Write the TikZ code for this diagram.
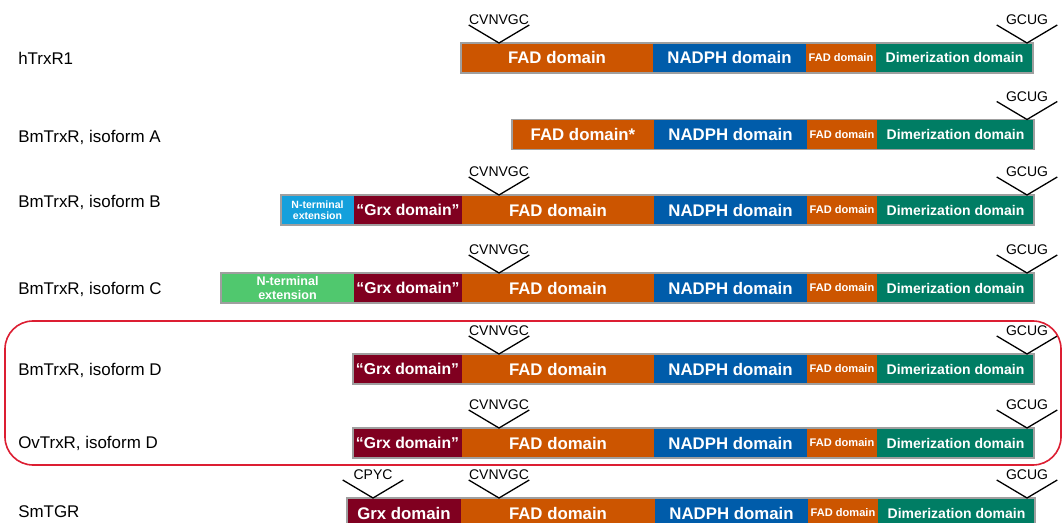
\documentclass[tikz,border=0pt]{standalone}
\usepackage{fontspec}
\setmainfont{Liberation Sans}
\usetikzlibrary{positioning}

\definecolor{fadc}{RGB}{204,85,0}
\definecolor{nadphc}{RGB}{0,92,170}
\definecolor{dimc}{RGB}{0,125,100}
\definecolor{grxc}{RGB}{128,0,32}
\definecolor{ntbc}{RGB}{20,160,220}
\definecolor{ntgc}{RGB}{80,200,110}
\definecolor{ringc}{RGB}{220,30,50}

\newdimen\px \px=0.75pt
\newcommand{\labfont}{\fontsize{12.7}{15}\selectfont}
\newcommand{\domfont}{\bfseries\fontsize{12.6}{15}\selectfont}
\newcommand{\grxfont}{\bfseries\fontsize{11.8}{14}\selectfont}
\newcommand{\dimfont}{\bfseries\fontsize{10.5}{13}\selectfont}
\newcommand{\smfadfont}{\bfseries\fontsize{8.3}{10}\selectfont}
\newcommand{\motiffont}{\fontsize{10.5}{12}\selectfont}

\begin{document}
\begin{tikzpicture}[x=0.75pt,y=-0.75pt,
  rowlabel/.style={anchor=west,inner sep=0pt,font=\labfont},
  dom/.style={inner sep=0pt,outer sep=0pt,minimum height=30\px,text=white,font=\domfont},
  fad/.style={dom,fill=fadc,minimum width=192\px},
  nadph/.style={dom,fill=nadphc,minimum width=153\px},
  smfad/.style={dom,fill=fadc,minimum width=70\px,font=\smfadfont},
  dimer/.style={dom,fill=dimc,minimum width=157\px,font=\dimfont},
  grx/.style={dom,fill=grxc,minimum width=108\px,font=\grxfont},
  barframe/.style={draw=gray!75,line width=1.2\px},
  motif/.style={anchor=south,inner sep=0pt,minimum width=60\px,font=\motiffont},
  motifline/.style={line width=1.3\px,black},
  ringline/.style={draw=ringc,line width=1.6\px,rounded corners=28\px}]
\useasboundingbox (0,0) rectangle (1063,523);

% hTrxR1
\node[rowlabel] (l1) at (18,58) {hTrxR1};
\node[fad,anchor=west] (f1) at (461,58) {FAD domain};
\node[nadph,right=0pt of f1] (n1) {NADPH domain};
\node[smfad,right=0pt of n1] (s1) {FAD domain};
\node[dimer,right=0pt of s1] (d1) {Dimerization domain};
\draw[barframe] (f1.north west) rectangle (d1.south east);
\node[motif] (c1) at (499,25) {CVNVGC};
\coordinate (cv1) at (499,43);
\draw[motifline] (c1.south west) -- (cv1) -- (c1.south east);
\node[motif] (g1) at (1027,25) {GCUG};
\coordinate (gv1) at (1027,43);
\draw[motifline] (g1.south west) -- (gv1) -- (g1.south east);

% BmTrxR A
\node[rowlabel] (l2) at (18,137) {BmTrxR, isoform A};
\node[fad,minimum width=142\px,anchor=west] (f2) at (512,134.5) {FAD domain*};
\node[nadph,right=0pt of f2] (n2) {NADPH domain};
\node[smfad,right=0pt of n2] (s2) {FAD domain};
\node[dimer,right=0pt of s2] (d2) {Dimerization domain};
\draw[barframe] (f2.north west) rectangle (d2.south east);
\node[motif] (g2) at (1027,101.5) {GCUG};
\coordinate (gv2) at (1027,119.5);
\draw[motifline] (g2.south west) -- (gv2) -- (g2.south east);

% BmTrxR B
\node[rowlabel] (l3) at (18,202) {BmTrxR, isoform B};
\node[dom,fill=ntbc,minimum width=73\px,align=center,anchor=west,
  font=\bfseries\fontsize{7.9}{8.4}\selectfont] (t3) at (281,210) {N-terminal\\extension};
\node[grx,right=0pt of t3] (x3) {“Grx domain”};
\node[fad,right=0pt of x3] (f3) {FAD domain};
\node[nadph,right=0pt of f3] (n3) {NADPH domain};
\node[smfad,right=0pt of n3] (s3) {FAD domain};
\node[dimer,right=0pt of s3] (d3) {Dimerization domain};
\draw[barframe] (t3.north west) rectangle (d3.south east);
\node[motif] (c3) at (499,177) {CVNVGC};
\coordinate (cv3) at (499,195);
\draw[motifline] (c3.south west) -- (cv3) -- (c3.south east);
\node[motif] (g3) at (1027,177) {GCUG};
\coordinate (gv3) at (1027,195);
\draw[motifline] (g3.south west) -- (gv3) -- (g3.south east);

% BmTrxR C
\node[rowlabel] (l4) at (18,289) {BmTrxR, isoform C};
\node[dom,fill=ntgc,minimum width=133\px,align=center,anchor=west,
  font=\bfseries\fontsize{9.4}{9.8}\selectfont] (t4) at (221,288) {N-terminal\\extension};
\node[grx,right=0pt of t4] (x4) {“Grx domain”};
\node[fad,right=0pt of x4] (f4) {FAD domain};
\node[nadph,right=0pt of f4] (n4) {NADPH domain};
\node[smfad,right=0pt of n4] (s4) {FAD domain};
\node[dimer,right=0pt of s4] (d4) {Dimerization domain};
\draw[barframe] (t4.north west) rectangle (d4.south east);
\node[motif] (c4) at (499,255) {CVNVGC};
\coordinate (cv4) at (499,273);
\draw[motifline] (c4.south west) -- (cv4) -- (c4.south east);
\node[motif] (g4) at (1027,255) {GCUG};
\coordinate (gv4) at (1027,273);
\draw[motifline] (g4.south west) -- (gv4) -- (g4.south east);

% BmTrxR D
\node[rowlabel] (l5) at (18,370) {BmTrxR, isoform D};
\node[grx,minimum width=109\px,anchor=west] (x5) at (353,369) {“Grx domain”};
\node[fad,right=0pt of x5] (f5) {FAD domain};
\node[nadph,right=0pt of f5] (n5) {NADPH domain};
\node[smfad,right=0pt of n5] (s5) {FAD domain};
\node[dimer,right=0pt of s5] (d5) {Dimerization domain};
\draw[barframe] (x5.north west) rectangle (d5.south east);
\node[motif] (c5) at (499,336) {CVNVGC};
\coordinate (cv5) at (499,354);
\draw[motifline] (c5.south west) -- (cv5) -- (c5.south east);
\node[motif] (g5) at (1027,336) {GCUG};
\coordinate (gv5) at (1027,354);
\draw[motifline] (g5.south west) -- (gv5) -- (g5.south east);

% OvTrxR D
\node[rowlabel] (l6) at (18,443) {OvTrxR, isoform D};
\node[grx,minimum width=109\px,anchor=west] (x6) at (353,443) {“Grx domain”};
\node[fad,right=0pt of x6] (f6) {FAD domain};
\node[nadph,right=0pt of f6] (n6) {NADPH domain};
\node[smfad,right=0pt of n6] (s6) {FAD domain};
\node[dimer,right=0pt of s6] (d6) {Dimerization domain};
\draw[barframe] (x6.north west) rectangle (d6.south east);
\node[motif] (c6) at (499,410) {CVNVGC};
\coordinate (cv6) at (499,428);
\draw[motifline] (c6.south west) -- (cv6) -- (c6.south east);
\node[motif] (g6) at (1027,410) {GCUG};
\coordinate (gv6) at (1027,428);
\draw[motifline] (g6.south west) -- (gv6) -- (g6.south east);

% isoform D group
\draw[ringline] (5,321) rectangle (1061,465);

% SmTGR
\node[rowlabel] (l7) at (18,512) {SmTGR};
\node[grx,minimum width=114\px,font=\domfont,anchor=west] (x7) at (347,513) {Grx domain};
\node[fad,minimum width=194\px,right=0pt of x7] (f7) {FAD domain};
\node[nadph,right=0pt of f7] (n7) {NADPH domain};
\node[smfad,right=0pt of n7] (s7) {FAD domain};
\node[dimer,right=0pt of s7] (d7) {Dimerization domain};
\draw[barframe] (x7.north west) rectangle (d7.south east);
\node[motif] (p7) at (373,480) {CPYC};
\coordinate (pv7) at (373,498);
\draw[motifline] (p7.south west) -- (pv7) -- (p7.south east);
\node[motif] (c7) at (499,480) {CVNVGC};
\coordinate (cv7) at (499,498);
\draw[motifline] (c7.south west) -- (cv7) -- (c7.south east);
\node[motif] (g7) at (1027,480) {GCUG};
\coordinate (gv7) at (1027,498);
\draw[motifline] (g7.south west) -- (gv7) -- (g7.south east);
\end{tikzpicture}
\end{document}
